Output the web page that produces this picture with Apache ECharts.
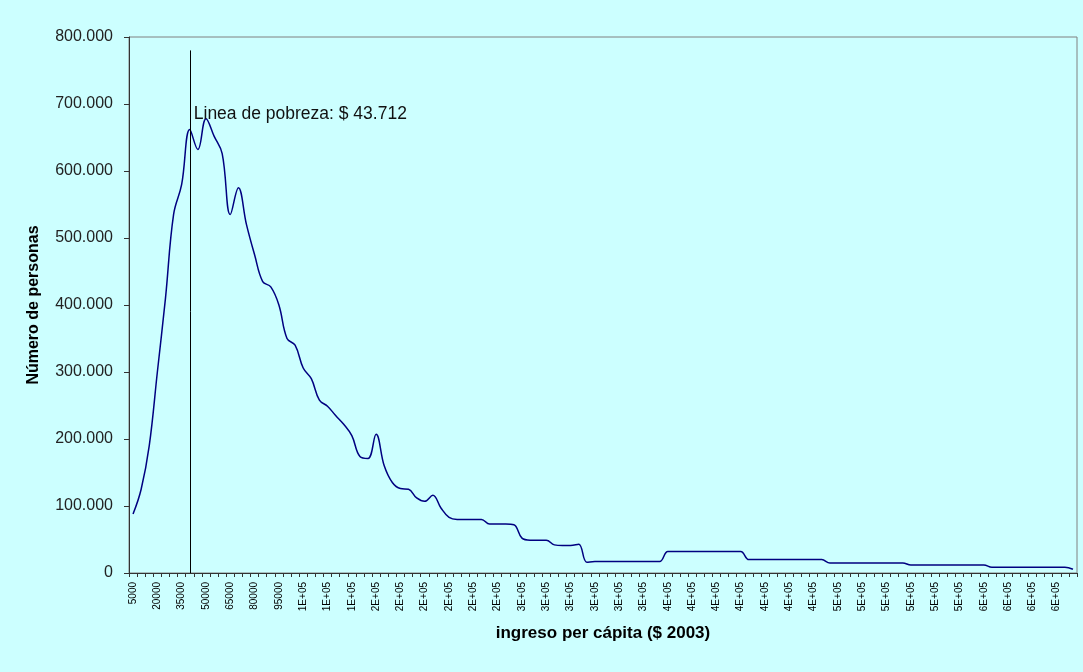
<!DOCTYPE html>
<html>
<head>
<meta charset="utf-8">
<script src="https://cdn.jsdelivr.net/npm/echarts@6/dist/echarts.min.js"></script>
<style>
html,body{margin:0;padding:0;background:#CCFFFF;}
#chart{width:1083px;height:672px;}
</style>
</head>
<body>
<div id="chart"></div>
<script>
// Income categories (per capita, $ 2003)
const categories = [
  5000, 10000, 15000, 20000, 25000, 30000, 35000, 40000, 45000, 50000,
  55000, 60000, 65000, 70000, 75000, 80000, 85000, 90000, 95000, 100000,
  105000, 110000, 115000, 120000, 125000, 130000, 135000, 140000, 145000, 150000,
  155000, 160000, 165000, 170000, 175000, 180000, 185000, 190000, 195000, 200000,
  205000, 210000, 215000, 220000, 225000, 230000, 235000, 240000, 245000, 250000,
  255000, 260000, 265000, 270000, 275000, 280000, 285000, 290000, 295000, 300000,
  305000, 310000, 315000, 320000, 325000, 330000, 335000, 340000, 345000, 350000,
  355000, 360000, 365000, 370000, 375000, 380000, 385000, 390000, 395000, 400000,
  405000, 410000, 415000, 420000, 425000, 430000, 435000, 440000, 445000, 450000,
  455000, 460000, 465000, 470000, 475000, 480000, 485000, 490000, 495000, 500000,
  505000, 510000, 515000, 520000, 525000, 530000, 535000, 540000, 545000, 550000,
  555000, 560000, 565000, 570000, 575000, 580000, 585000
];

// Número de personas
const personas = [
  88000, 125000, 190000, 300000, 410000, 535000, 580000, 662000, 632000, 678000,
  652000, 626000, 535000, 575000, 520000, 475000, 435000, 427000, 400000, 350000,
  340000, 306000, 290000, 258000, 249000, 235000, 222000, 205000, 174000, 171000,
  207000, 160000, 135000, 126000, 125000, 112000, 107000, 116000, 97000, 83000,
  80000, 80000, 80000, 80000, 73000, 73000, 73000, 72000, 52000, 49000,
  49000, 49000, 42000, 41000, 41000, 43000, 16000, 17000, 17000, 17000,
  17000, 17000, 17000, 17000, 17000, 17000, 32000, 32000, 32000, 32000,
  32000, 32000, 32000, 32000, 32000, 32000, 20000, 20000, 20000, 20000,
  20000, 20000, 20000, 20000, 20000, 20000, 15000, 15000, 15000, 15000,
  15000, 15000, 15000, 15000, 15000, 15000, 12000, 12000, 12000, 12000,
  12000, 12000, 12000, 12000, 12000, 12000, 8500, 8500, 8500, 8500,
  8500, 8500, 8500, 8500, 8500, 8500, 5500
];

// Tick labels as printed on the axis (one every third category)
const tickLabels = [
  '5000', '20000', '35000', '50000', '65000', '80000', '95000',
  '1E+05', '1E+05', '1E+05',
  '2E+05', '2E+05', '2E+05', '2E+05', '2E+05', '2E+05',
  '3E+05', '3E+05', '3E+05', '3E+05', '3E+05', '3E+05',
  '4E+05', '4E+05', '4E+05', '4E+05', '4E+05', '4E+05', '4E+05',
  '5E+05', '5E+05', '5E+05', '5E+05', '5E+05', '5E+05',
  '6E+05', '6E+05', '6E+05', '6E+05'
];

const povertyLine = 43712;
const povertyCategory = 40000;   // income bin containing the poverty line
const povertyLineTop = 780000;
const povertyText = 'Linea de pobreza: $ 43.712';
const xAxisName = 'ingreso per cápita ($ 2003)';
const yAxisName = 'Número de personas';

function thousands(v) {
  return String(v).replace(/\B(?=(\d{3})+(?!\d))/g, '.');
}

const povIdx = categories.indexOf(povertyCategory);

const chart = echarts.init(document.getElementById('chart'), null, {renderer: 'canvas'});
chart.setOption({
  backgroundColor: '#CCFFFF',
  animation: false,
  grid: {
    left: 129, right: 6, top: 37, bottom: 99,
    show: true, borderColor: '#808080', borderWidth: 1, backgroundColor: '#CCFFFF'
  },
  xAxis: {
    type: 'category',
    data: categories,
    boundaryGap: true,
    name: xAxisName,
    nameLocation: 'middle',
    nameGap: 52,
    nameTextStyle: {fontFamily: 'Liberation Sans', fontWeight: 'bold', fontSize: 17, color: '#000'},
    axisLine: {show: true, lineStyle: {color: '#333', width: 1}},
    axisTick: {show: true, interval: 0, length: 4, lineStyle: {color: '#333'}},
    axisLabel: {
      interval: 2, rotate: 90, margin: 9, fontSize: 10,
      fontFamily: 'Liberation Sans', color: '#000',
      formatter: function (v, i) { return tickLabels[i / 3]; }
    },
    splitLine: {show: false}
  },
  yAxis: {
    type: 'value',
    min: 0, max: 800000, interval: 100000,
    name: yAxisName,
    nameLocation: 'middle',
    nameGap: 87,
    nameTextStyle: {fontFamily: 'Liberation Sans', fontWeight: 'bold', fontSize: 16, color: '#000'},
    axisLine: {show: true, lineStyle: {color: '#333', width: 1}},
    axisTick: {show: true, length: 5, lineStyle: {color: '#333'}},
    axisLabel: {margin: 16, fontSize: 16, fontFamily: 'Liberation Sans', color: '#222', formatter: thousands},
    splitLine: {show: false}
  },
  series: [{
    type: 'line',
    data: personas,
    smooth: 0.4,
    symbol: 'none',
    lineStyle: {color: '#000080', width: 1.5},
    markLine: {
      silent: true,
      symbol: 'none',
      label: {show: false},
      lineStyle: {color: '#000', width: 1, type: 'solid'},
      data: [[{coord: [povIdx, 0]}, {coord: [povIdx, povertyLineTop]}]]
    },
    markPoint: {
      silent: true,
      symbol: 'circle',
      symbolSize: 0,
      data: [{coord: [povIdx, 685000]}],
      label: {
        show: true, position: 'right', distance: 4,
        formatter: povertyText,
        fontFamily: 'Liberation Sans', fontSize: 17.5, color: '#111'
      }
    }
  }]
});
</script>
</body>
</html>
